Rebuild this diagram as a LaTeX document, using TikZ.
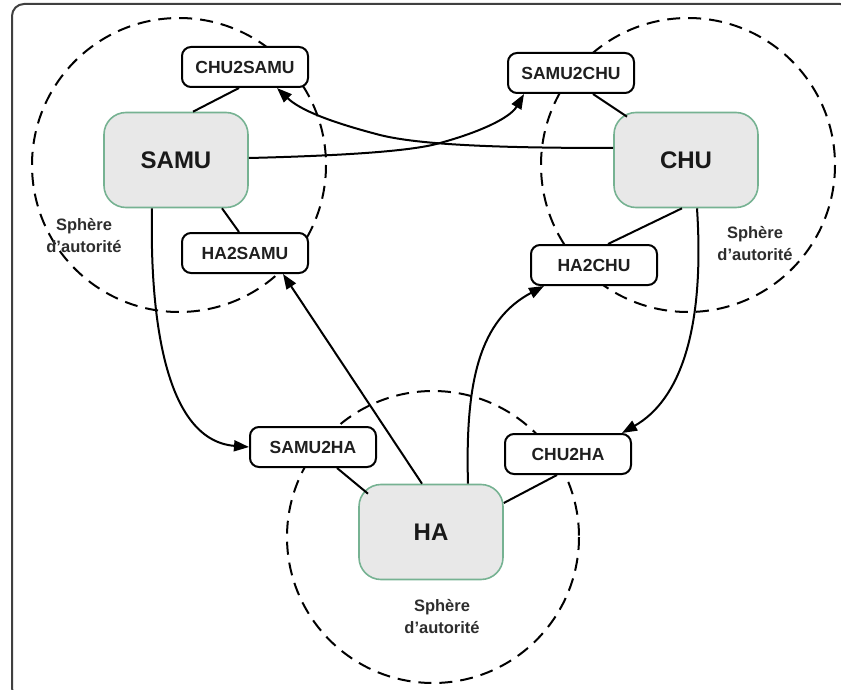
\documentclass[tikz,border=0pt]{standalone}
\usepackage{fontspec}
\setmainfont{Liberation Sans}
\usetikzlibrary{arrows.meta}

\definecolor{actorfill}{RGB}{232,232,232}
\definecolor{actorline}{RGB}{118,178,146}
\definecolor{labelgray}{RGB}{45,45,45}

\tikzset{
  actor/.style={draw=actorline, line width=1.6pt, fill=actorfill,
    rounded corners=22pt, minimum width=144pt, minimum height=95pt,
    font=\fontsize{24}{27}\selectfont\bfseries, text=black!90},
  channel/.style={draw=black, line width=2pt, fill=white,
    rounded corners=9pt, minimum width=126pt, minimum height=40pt,
    font=\fontsize{17.5}{20}\selectfont\bfseries, text=black!88},
  sphere/.style={draw=black, line width=2pt, dash pattern=on 13pt off 8pt},
  spherelabel/.style={align=center, text=labelgray,
    font=\fontsize{16.5}{22}\selectfont\bfseries},
  link/.style={draw=black, line width=2pt},
  flow/.style={draw=black, line width=2pt,
    -{Triangle[length=15pt, width=11pt]}},
}

\begin{document}
\begin{tikzpicture}[x=1pt, y=-1pt]
  \useasboundingbox (0,0) rectangle (841,690);
  \clip (0,0) rectangle (841,690);

  % outer frame (partly beyond the page on the right and bottom)
  \draw[line width=2pt, draw=black!75, rounded corners=12pt] (12,4) rectangle (852,700);

  % spheres of authority
  \draw[sphere] (179,165) circle (147);
  \draw[sphere] (688,165) circle (147);
  \draw[sphere] (433,537) circle (146);

  \node[spherelabel] (lsamu) at (84,236) {Sphère\\d'autorité};
  \node[spherelabel] (lchu)  at (755,244) {Sphère\\d'autorité};
  \node[spherelabel] (lha)   at (442,617) {Sphère\\d'autorité};

  % actors
  \node[actor] (samu) at (176,160) {SAMU};
  \node[actor] (chu)  at (686,160) {CHU};
  \node[actor] (ha)   at (431,532) {HA};

  % channels
  \node[channel] (chu2samu) at (245,67)  {CHU2SAMU};
  \node[channel] (ha2samu)  at (245,253) {HA2SAMU};
  \node[channel] (samu2chu) at (571,73)  {SAMU2CHU};
  \node[channel] (ha2chu)   at (594,265) {HA2CHU};
  \node[channel] (samu2ha)  at (313,447) {SAMU2HA};
  \node[channel] (chu2ha)   at (568,454) {CHU2HA};

  % ownership links
  \draw[link] ([xshift=17pt]samu.north) -- ([xshift=-6pt]chu2samu.south);
  \draw[link] ([xshift=46pt]samu.south) -- ([xshift=-6pt]ha2samu.north);
  \draw[link] ([xshift=-59pt,yshift=-5pt]chu.north) -- ([xshift=22pt]samu2chu.south);
  \draw[link] ([xshift=-4pt]chu.south) -- ([xshift=14pt]ha2chu.north);
  \draw[link] ([xshift=-63pt,yshift=-10pt]ha.north) -- ([xshift=24pt]samu2ha.south);
  \draw[link] ([yshift=29pt]ha.east) -- ([xshift=-11pt]chu2ha.south);

  % message flows
  \draw[flow] ([yshift=12pt]chu.west) .. controls (500,148) and (420,145) .. (380,135)
     .. controls (330,122) and (300,110) .. ([xshift=32pt]chu2samu.south);
  \draw[flow] ([yshift=2pt]samu.east) .. controls (330,156) and (410,152) .. (440,143)
     .. controls (480,132) and (510,118) .. ([xshift=-47pt]samu2chu.south);
  \draw[flow] ([xshift=-24pt]samu.south) .. controls (150,300) and (160,440) .. (samu2ha.west);
  \draw[flow] ([xshift=11pt]chu.south) .. controls (705,330) and (680,400) .. ([xshift=54pt]chu2ha.north);
  \draw[flow] ([xshift=-9pt]ha.north) -- ([xshift=38pt]ha2samu.south);
  \draw[flow] ([xshift=37pt]ha.north) .. controls (465,380) and (480,320) .. ([xshift=-50pt]ha2chu.south);
\end{tikzpicture}
\end{document}
